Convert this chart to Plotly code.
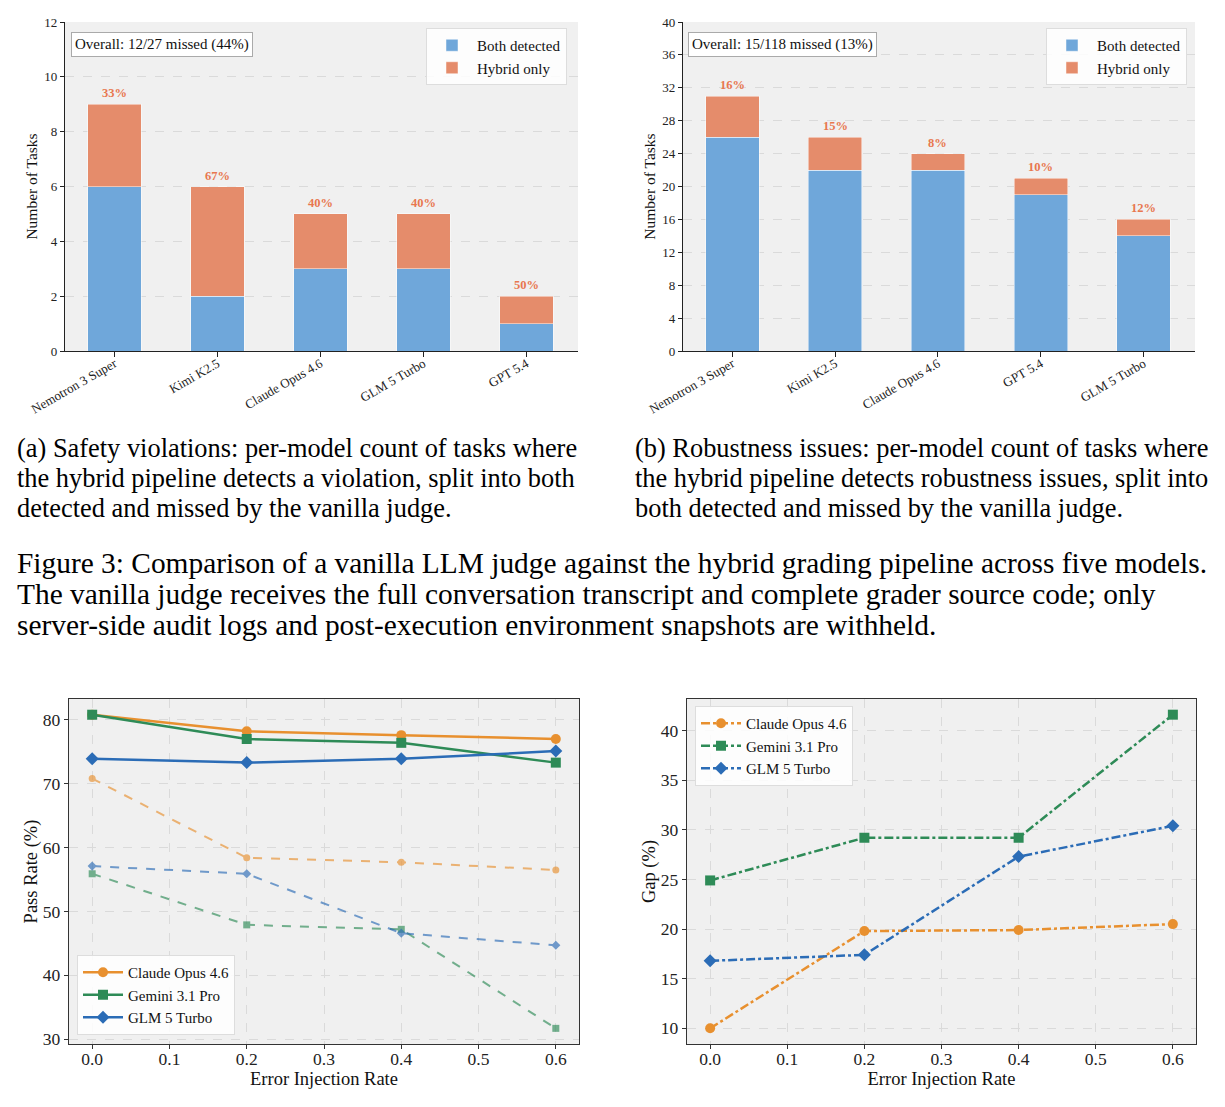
import plotly.graph_objects as go

# ---------------- data ----------------
models_a = ["Nemotron 3 Super", "Kimi K2.5", "Claude Opus 4.6", "GLM 5 Turbo", "GPT 5.4"]
both_a = [6, 2, 3, 3, 1]
hybrid_a = [3, 4, 2, 2, 1]

models_b = ["Nemotron 3 Super", "Kimi K2.5", "Claude Opus 4.6", "GPT 5.4", "GLM 5 Turbo"]
both_b = [26, 22, 22, 19, 14]
hybrid_b = [5, 4, 2, 2, 2]

rates = [0.0, 0.2, 0.4, 0.6]
line_models = ["Claude Opus 4.6", "Gemini 3.1 Pro", "GLM 5 Turbo"]
hybrid_pass = {
    "Claude Opus 4.6": [80.8, 78.2, 77.6, 77.0],
    "Gemini 3.1 Pro": [80.8, 77.0, 76.4, 73.3],
    "GLM 5 Turbo": [73.9, 73.3, 73.9, 75.1],
}
vanilla_pass = {
    "Claude Opus 4.6": [70.8, 58.4, 57.7, 56.5],
    "Gemini 3.1 Pro": [55.9, 47.9, 47.2, 31.7],
    "GLM 5 Turbo": [57.1, 55.9, 46.6, 44.7],
}
gap = {
    "Claude Opus 4.6": [10.0, 19.8, 19.9, 20.5],
    "Gemini 3.1 Pro": [24.9, 29.2, 29.2, 41.6],
    "GLM 5 Turbo": [16.8, 17.4, 27.3, 30.4],
}

caption_a = ["(a) Safety violations: per-model count of tasks where",
             "the hybrid pipeline detects a violation, split into both",
             "detected and missed by the vanilla judge."]
caption_b = ["(b) Robustness issues: per-model count of tasks where",
             "the hybrid pipeline detects robustness issues, split into",
             "both detected and missed by the vanilla judge."]
caption_fig = ["Figure 3: Comparison of a vanilla LLM judge against the hybrid grading pipeline across five models.",
               "The vanilla judge receives the full conversation transcript and complete grader source code; only",
               "server-side audit logs and post-execution environment snapshots are withheld."]

# ---------------- style ----------------
W, H = 1225, 1107
FONT = "Liberation Serif"
BLUE_BAR = "#6FA7DA"
ORANGE_BAR = "#E58C6B"
PCT_COLOR = "#E8774F"
line_colors = {"Claude Opus 4.6": "#E8902F", "Gemini 3.1 Pro": "#2E8B57", "GLM 5 Turbo": "#2B6CB6"}
line_symbols = {"Claude Opus 4.6": "circle", "Gemini 3.1 Pro": "square", "GLM 5 Turbo": "diamond"}
BG = "#F0F0F0"
GRID = "#DADADA"


def px_x(p):
    return p / W


def px_y(p):
    return 1 - p / H


fig = go.Figure()

# ---- bar charts ----
for (models, both, hyb, xa, ya, leg) in [
    (models_a, both_a, hybrid_a, "x", "y", "legend"),
    (models_b, both_b, hybrid_b, "x2", "y2", "legend2"),
]:
    fig.add_trace(go.Bar(x=models, y=both, name="Both detected", marker_color=BLUE_BAR,
                         marker_line=dict(color="rgba(255,255,255,0.6)", width=0.8),
                         width=0.52, xaxis=xa, yaxis=ya, legend=leg))
    fig.add_trace(go.Bar(x=models, y=hyb, name="Hybrid only", marker_color=ORANGE_BAR,
                         marker_line=dict(color="rgba(255,255,255,0.6)", width=0.8),
                         width=0.52, xaxis=xa, yaxis=ya, legend=leg))

annotations = []
for (models, both, hyb, xa, ya, xleft) in [
    (models_a, both_a, hybrid_a, "x", "y", 71),
    (models_b, both_b, hybrid_b, "x2", "y2", 688),
]:
    for m, b, h in zip(models, both, hyb):
        t = b + h
        annotations.append(dict(x=m, y=t, xref=xa, yref=ya, text=f"<b>{100 * h / t:.0f}%</b>",
                                showarrow=False, yanchor="bottom", yshift=2,
                                font=dict(family=FONT, size=12.5, color=PCT_COLOR)))
    tot = sum(both) + sum(hyb)
    miss = sum(hyb)
    annotations.append(dict(x=px_x(xleft), y=px_y(44.5), xref="paper", yref="paper",
                            text=f"Overall: {miss}/{tot} missed ({100 * miss / tot:.0f}%)",
                            showarrow=False, xanchor="left", yanchor="middle",
                            font=dict(family=FONT, size=15, color="#111"),
                            bgcolor="white", bordercolor="#AAAAAA", borderwidth=1, borderpad=3))

# ---- line chart: pass rate ----
for m in line_models:
    fig.add_trace(go.Scatter(x=rates, y=hybrid_pass[m], mode="lines+markers", name=m,
                             line=dict(color=line_colors[m], width=2.5),
                             marker=dict(symbol=line_symbols[m], size=10, color=line_colors[m]),
                             xaxis="x3", yaxis="y3", legend="legend3"))
for m in line_models:
    fig.add_trace(go.Scatter(x=rates, y=vanilla_pass[m], mode="lines+markers", name=m + " (vanilla)",
                             line=dict(color=line_colors[m], width=2, dash="dash"),
                             marker=dict(symbol=line_symbols[m], size=7, color=line_colors[m]),
                             opacity=0.65, showlegend=False,
                             xaxis="x3", yaxis="y3"))

# ---- line chart: gap ----
for m in line_models:
    fig.add_trace(go.Scatter(x=rates, y=gap[m], mode="lines+markers", name=m,
                             line=dict(color=line_colors[m], width=2.5, dash="dashdot"),
                             marker=dict(symbol=line_symbols[m], size=10, color=line_colors[m]),
                             xaxis="x4", yaxis="y4", legend="legend4"))

# ---- captions ----
SUB_SIZE = 26.4
FIG_SIZE = 29.4
for i, line in enumerate(caption_a):
    annotations.append(dict(x=px_x(15), y=px_y(448 + 30 * i), xref="paper", yref="paper", text=line,
                            showarrow=False, xanchor="left", yanchor="middle",
                            font=dict(family=FONT, size=SUB_SIZE, color="black")))
for i, line in enumerate(caption_b):
    annotations.append(dict(x=px_x(633), y=px_y(448 + 30 * i), xref="paper", yref="paper", text=line,
                            showarrow=False, xanchor="left", yanchor="middle",
                            font=dict(family=FONT, size=SUB_SIZE, color="black")))
for i, line in enumerate(caption_fig):
    annotations.append(dict(x=px_x(15), y=px_y(563 + 31 * i), xref="paper", yref="paper", text=line,
                            showarrow=False, xanchor="left", yanchor="middle",
                            font=dict(family=FONT, size=FIG_SIZE, color="black")))

tickfont_bar = dict(family=FONT, size=13, color="#222")
tickfont_line = dict(family=FONT, size=17.5, color="#222")

bar_x = dict(type="category", range=[-0.48, 4.5], showline=True, linecolor="#222", linewidth=1.3,
             ticks="outside", ticklen=5, tickcolor="#222", tickangle=-30, tickfont=tickfont_bar,
             ticklabelstandoff=-6,
             showgrid=False, zeroline=False, automargin=False)
bar_y = dict(showline=True, linecolor="#222", linewidth=1.3, ticks="outside", ticklen=4, tickcolor="#222",
             tickfont=tickfont_bar, showgrid=True, gridcolor=GRID, griddash="dash", gridwidth=0.8,
             zeroline=False, automargin=False,
             title=dict(text="Number of Tasks", font=dict(family=FONT, size=15.5, color="#111"), standoff=2))

line_x = dict(range=[-0.03, 0.63], tickvals=[0, 0.1, 0.2, 0.3, 0.4, 0.5, 0.6], tickformat=".1f",
              showline=True, mirror=True, linecolor="#333", linewidth=1.3, ticks="outside", ticklen=4,
              tickcolor="#333", tickfont=tickfont_line, showgrid=True, gridcolor=GRID, griddash="dash",
              gridwidth=0.8, zeroline=False, automargin=False, ticklabelstandoff=-5,
              title=dict(text="Error Injection Rate", font=dict(family=FONT, size=18.5, color="#111"), standoff=2))
line_y = dict(showline=True, mirror=True, linecolor="#333", linewidth=1.3, ticks="outside", ticklen=4,
              tickcolor="#333", tickfont=tickfont_line, showgrid=True, gridcolor=GRID, griddash="dash",
              gridwidth=0.8, zeroline=False, automargin=False)

legend_common = dict(bgcolor="rgba(255,255,255,0.85)", bordercolor="#DDDDDD", borderwidth=1,
                     font=dict(family=FONT, size=15, color="#111"), traceorder="normal",
                     itemwidth=40, tracegroupgap=0)

fig.update_layout(
    width=W, height=H, margin=dict(l=0, r=0, t=0, b=0, autoexpand=False),
    paper_bgcolor="white", plot_bgcolor=BG, barmode="stack",
    font=dict(family=FONT),
    xaxis=dict(bar_x, domain=[px_x(65), px_x(578)], anchor="y"),
    yaxis=dict(bar_y, domain=[px_y(351), px_y(22)], range=[0, 12], tickvals=list(range(0, 13, 2)), anchor="x"),
    xaxis2=dict(bar_x, domain=[px_x(683), px_x(1195)], anchor="y2"),
    yaxis2=dict(bar_y, domain=[px_y(351), px_y(22)], range=[0, 40], tickvals=list(range(0, 41, 4)), anchor="x2"),
    xaxis3=dict(line_x, domain=[px_x(69), px_x(579)], anchor="y3"),
    yaxis3=dict(line_y, domain=[px_y(1044), px_y(699)], range=[29.25, 83.26], tickvals=[30, 40, 50, 60, 70, 80],
                anchor="x3", title=dict(text="Pass Rate (%)", font=dict(family=FONT, size=18.5, color="#111"), standoff=0)),
    xaxis4=dict(line_x, domain=[px_x(687), px_x(1196)], anchor="y4"),
    yaxis4=dict(line_y, domain=[px_y(1044), px_y(699)], range=[8.42, 43.18], tickvals=[10, 15, 20, 25, 30, 35, 40],
                anchor="x4", title=dict(text="Gap (%)", font=dict(family=FONT, size=18.5, color="#111"), standoff=0)),
    legend=dict(legend_common, x=px_x(567), y=px_y(28), xanchor="right", yanchor="top"),
    legend2=dict(legend_common, x=px_x(1187), y=px_y(28), xanchor="right", yanchor="top"),
    legend3=dict(legend_common, x=px_x(77), y=px_y(1035), xanchor="left", yanchor="bottom"),
    legend4=dict(legend_common, x=px_x(695), y=px_y(706), xanchor="left", yanchor="top"),
    annotations=annotations,
)

fig.write_html("out.html")
